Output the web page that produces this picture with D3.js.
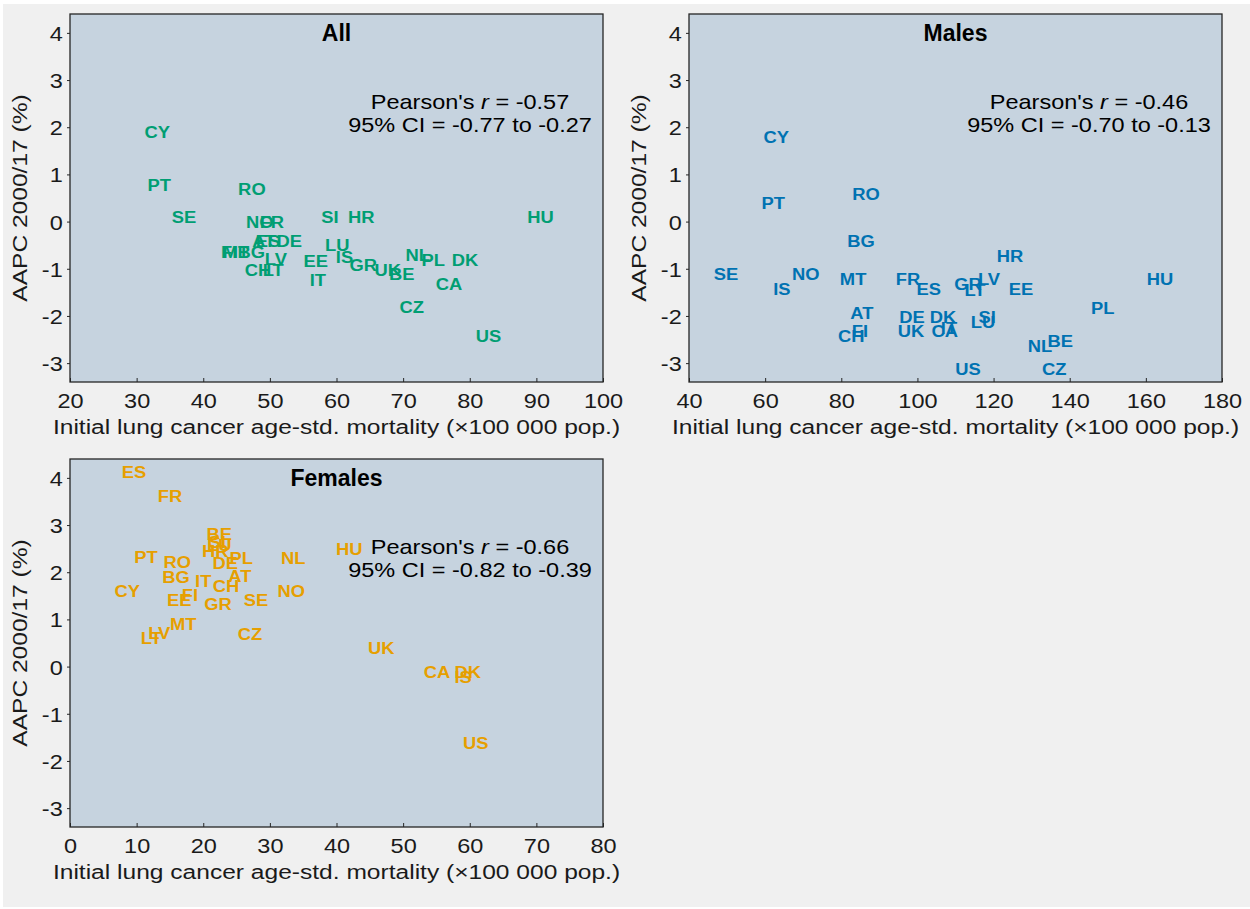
<!DOCTYPE html>
<html><head><meta charset="utf-8">
<script src="https://cdn.jsdelivr.net/npm/d3@7"></script>
<style>body{margin:0;background:#fff}svg{display:block}</style>
</head><body><svg id="c" width="1250" height="909"></svg>
<script>
// ---------- data ----------
const allCodes = ["CY","PT","SE","RO","NO","FR","AT","ES","DE","FI","MT","BG","CH","LT","LV","EE","IT","SI","HR","LU","IS","GR","UK","BE","NL","PL","DK","CA","CZ","US","HU"];
const allX     = [33.1,33.4,37.1,47.3,48.5,50.3,49.1,49.7,52.9,43.9,44.9,47.2,48.2,50.5,50.9,56.9,57.2,59.0,63.7,60.1,61.2,64.0,67.7,69.8,72.2,74.5,79.3,76.9,71.3,82.8,90.6];
const allY     = [1.90,0.78,0.10,0.69,0.00,0.00,-0.41,-0.41,-0.41,-0.64,-0.64,-0.64,-1.03,-1.03,-0.79,-0.83,-1.24,0.10,0.10,-0.50,-0.75,-0.92,-1.03,-1.11,-0.71,-0.81,-0.81,-1.32,-1.81,-2.42,0.10];

const maleCodes = ["CY","PT","RO","BG","SE","NO","IS","MT","FR","ES","GR","LT","LV","HR","EE","HU","PL","AT","FI","CH","DE","UK","DK","CA","IT","LU","SI","NL","BE","US","CZ"];
const maleX     = [62.9,62.1,86.5,85.2,49.7,70.7,64.4,83.1,97.5,103.0,113.3,115.1,118.8,124.3,127.2,163.7,148.7,85.4,84.9,82.6,98.6,98.3,106.7,107.2,108.3,117.2,118.3,132.2,137.5,113.3,135.9];
const maleY     = [1.79,0.39,0.58,-0.41,-1.11,-1.11,-1.43,-1.22,-1.22,-1.43,-1.32,-1.45,-1.22,-0.73,-1.43,-1.22,-1.83,-1.94,-2.32,-2.42,-2.02,-2.32,-2.02,-2.32,-2.26,-2.13,-2.02,-2.64,-2.53,-3.12,-3.12];

const femaleCodes = ["ES","FR","BE","SI","LU","HR","DE","PL","PT","RO","BG","IT","AT","CH","CY","EE","FI","GR","SE","NL","NO","HU","MT","LV","LT","CZ","UK","CA","IS","DK","US"];
const femaleX     = [9.6,15.0,22.4,22.1,22.4,21.8,23.3,25.7,11.4,16.1,15.9,20.0,25.5,23.4,8.6,16.4,18.0,22.2,27.9,33.5,33.2,41.9,17.0,13.4,12.2,27.0,46.7,55.1,59.0,59.7,60.9];
const femaleY     = [4.12,3.62,2.81,2.64,2.58,2.45,2.20,2.30,2.32,2.22,1.90,1.81,1.92,1.71,1.60,1.41,1.52,1.33,1.41,2.30,1.60,2.49,0.90,0.71,0.61,0.69,0.39,-0.11,-0.22,-0.11,-1.62];

const panelTitles = ["All","Males","Females"];
const pearsonR    = ["-0.57","-0.46","-0.66"];
const ciRanges    = ["-0.77 to -0.27","-0.70 to -0.13","-0.82 to -0.39"];
const xTicksAll     = [20,30,40,50,60,70,80,90,100];
const xTicksMales   = [40,60,80,100,120,140,160,180];
const xTicksFemales = [0,10,20,30,40,50,60,70,80];
const yTicks        = [-3,-2,-1,0,1,2,3,4];
const xDomainAll = [20,100], xDomainMales = [40,180], xDomainFemales = [0,80];
const yDomain = [-3.4, 4.4];
const xLabelText = "Initial lung cancer age-std. mortality (\u00d7100 000 pop.)";
const yLabelText = "AAPC 2000/17 (%)";
const seriesColors = ["#009E73","#0072B2","#E69F00"];

// ---------- layout ----------
const FONT = "'Liberation Sans', Arial, Helvetica, sans-serif";
const SX = 1.12;      // horizontal stretch of regular text
const PW = 533, PH = 368;
const panels = [
  {left:70,  top:14,  codes:allCodes,    xs:allX,    ys:allY,    xd:xDomainAll,     xt:xTicksAll,     i:0},
  {left:689, top:14,  codes:maleCodes,   xs:maleX,   ys:maleY,   xd:xDomainMales,   xt:xTicksMales,   i:1},
  {left:70,  top:459, codes:femaleCodes, xs:femaleX, ys:femaleY, xd:xDomainFemales, xt:xTicksFemales, i:2}
];
const fmt = d => String(d);

const svg = d3.select("#c");
svg.append("rect").attr("x",3).attr("y",4).attr("width",1247).attr("height",903).attr("fill","#f0f0f0");

panels.forEach(p => {
  const g = svg.append("g").attr("transform", `translate(${p.left},${p.top})`);
  const x = d3.scaleLinear().domain(p.xd).range([0, PW]);
  const y = d3.scaleLinear().domain(yDomain).range([PH, 0]);

  g.append("rect").attr("width",PW).attr("height",PH).attr("fill","#c6d3df");

  // x axis (ticks inside)
  const xa = g.append("g").attr("transform",`translate(0,${PH})`)
    .call(d3.axisBottom(x).tickValues(p.xt).tickFormat(fmt).tickSizeInner(-4).tickSizeOuter(0));
  xa.select(".domain").remove();
  xa.selectAll("line").attr("stroke","#262626");
  xa.selectAll("text").attr("y",26).attr("dy",null)
    .attr("font-family",FONT).attr("font-size",21).attr("fill","#1a1a1a")
    .attr("transform",`scale(${SX},1)`);

  // y axis (ticks outside)
  const ya = g.append("g")
    .call(d3.axisLeft(y).tickValues(yTicks).tickFormat(fmt).tickSize(3).tickPadding(3.5));
  ya.select(".domain").remove();
  ya.selectAll("line").attr("stroke","#262626");
  ya.selectAll("text").attr("dy","0.36em")
    .attr("font-family",FONT).attr("font-size",21).attr("fill","#1a1a1a")
    .attr("transform",`scale(${SX},1)`);

  // frame
  g.append("rect").attr("width",PW).attr("height",PH).attr("fill","none")
    .attr("stroke","#262626").attr("stroke-width",1.3);

  // title
  g.append("text").attr("x",PW/2).attr("y",27).attr("text-anchor","middle")
    .attr("font-family",FONT).attr("font-size",23).attr("font-weight","bold").attr("fill","#000")
    .text(panelTitles[p.i]);

  // Pearson text
  const t1 = g.append("text").attr("text-anchor","middle").attr("font-family",FONT).attr("font-size",21)
    .attr("fill","#000").attr("transform",`translate(400,95) scale(${SX},1)`);
  t1.append("tspan").text("Pearson's ");
  t1.append("tspan").attr("font-style","italic").text("r");
  t1.append("tspan").text(" = " + pearsonR[p.i]);
  g.append("text").attr("text-anchor","middle").attr("font-family",FONT).attr("font-size",21)
    .attr("fill","#000").attr("transform",`translate(400,118) scale(${SX},1)`)
    .text("95% CI = " + ciRanges[p.i]);

  // labels
  g.append("g").selectAll("text").data(p.codes).join("text")
    .attr("transform",(d,k)=>`translate(${x(p.xs[k])},${y(p.ys[k])}) scale(1.08,1)`)
    .attr("text-anchor","middle").attr("dy","0.36em")
    .attr("font-family",FONT).attr("font-size",17).attr("font-weight","bold")
    .attr("fill",seriesColors[p.i]).text(d=>d);

  // axis labels
  g.append("text").attr("text-anchor","middle").attr("font-family",FONT).attr("font-size",21)
    .attr("fill","#1a1a1a").attr("transform",`translate(${PW/2},${PH+52}) scale(1.17,1)`)
    .text(xLabelText);
  g.append("text").attr("text-anchor","middle").attr("font-family",FONT).attr("font-size",21)
    .attr("fill","#1a1a1a").attr("transform",`translate(-43,${PH/2}) rotate(-90) scale(1.17,1)`)
    .text(yLabelText);
});
</script></body></html>
